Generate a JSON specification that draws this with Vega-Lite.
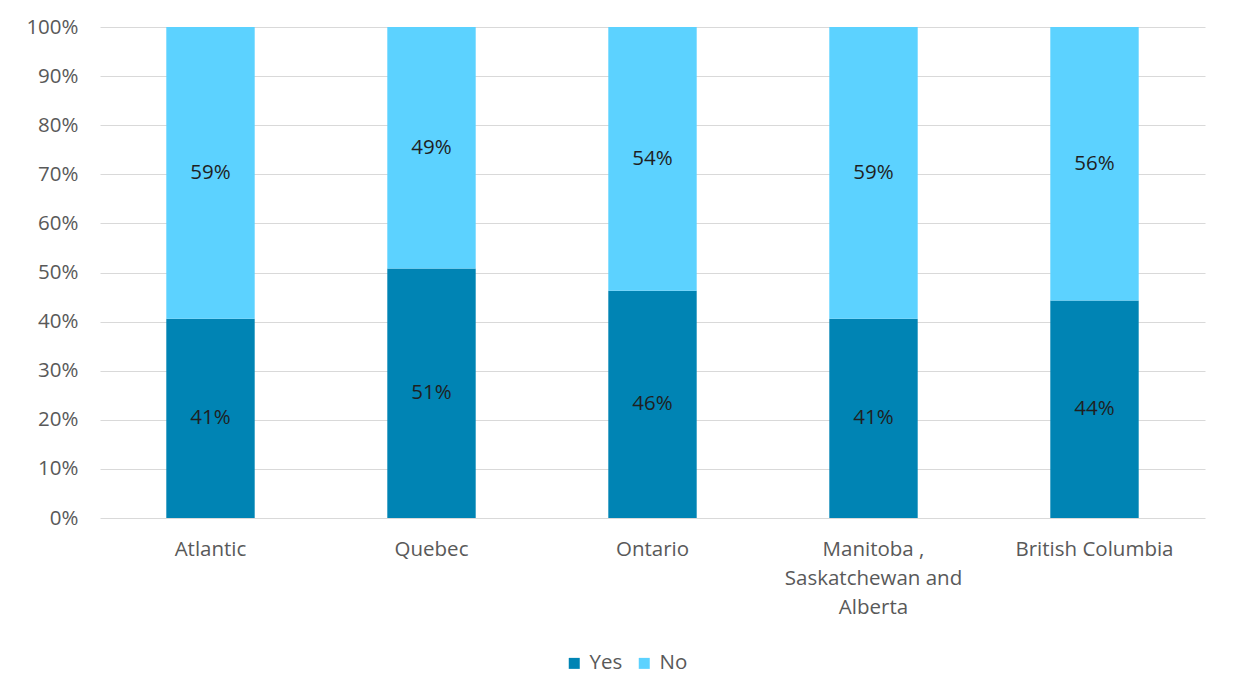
{
  "$schema": "https://vega.github.io/schema/vega-lite/v6.json",
  "autosize": {"type": "none"},
  "padding": {"left": 100, "top": 27, "right": 28, "bottom": 182},
  "width": 1105,
  "height": 491,
  "background": "white",
  "config": {
    "view": {"stroke": null},
    "font": "Open Sans"
  },
  "data": {
    "values": [
      {"region": "Atlantic", "answer": "Yes", "value": 0.406},
      {"region": "Atlantic", "answer": "No", "value": 0.594},
      {"region": "Quebec", "answer": "Yes", "value": 0.508},
      {"region": "Quebec", "answer": "No", "value": 0.492},
      {"region": "Ontario", "answer": "Yes", "value": 0.463},
      {"region": "Ontario", "answer": "No", "value": 0.537},
      {"region": "Manitoba , Saskatchewan and Alberta", "answer": "Yes", "value": 0.406},
      {"region": "Manitoba , Saskatchewan and Alberta", "answer": "No", "value": 0.594},
      {"region": "British Columbia", "answer": "Yes", "value": 0.443},
      {"region": "British Columbia", "answer": "No", "value": 0.557}
    ]
  },
  "encoding": {
    "x": {
      "field": "region",
      "type": "nominal",
      "sort": null,
      "scale": {"paddingInner": 0.6, "paddingOuter": 0.3},
      "axis": {
        "title": null,
        "labelAngle": 0,
        "domain": false,
        "ticks": false,
        "labelFont": "Open Sans",
        "labelFontSize": 20.5,
        "labelColor": "#595959",
        "labelPadding": 21,
        "labelLineHeight": 29,
        "labelLimit": 300,
        "labelExpr": "datum.value == 'Manitoba , Saskatchewan and Alberta' ? ['Manitoba ,', 'Saskatchewan and', 'Alberta'] : datum.value"
      }
    }
  },
  "layer": [
    {
      "mark": {"type": "bar"},
      "encoding": {
        "y": {
          "field": "value",
          "type": "quantitative",
          "stack": "zero",
          "scale": {"domain": [0, 1]},
          "axis": {
            "title": null,
            "format": ".0%",
            "values": [0, 0.1, 0.2, 0.3, 0.4, 0.5, 0.6, 0.7, 0.8, 0.9, 1],
            "labelOverlap": false,
            "domain": false,
            "ticks": false,
            "grid": true,
            "gridColor": "#d9d9d9",
            "gridWidth": 1,
            "labelFont": "Open Sans",
            "labelFontSize": 20.5,
            "labelColor": "#595959",
            "labelPadding": 22
          }
        },
        "color": {
          "field": "answer",
          "type": "nominal",
          "sort": ["Yes", "No"],
          "scale": {"domain": ["Yes", "No"], "range": ["#0084B4", "#5CD2FF"]},
          "legend": {
            "title": null,
            "orient": "none",
            "direction": "horizontal",
            "legendX": 464,
            "legendY": 626,
            "symbolType": "square",
            "symbolSize": 121,
            "symbolStrokeWidth": 0,
            "labelFont": "Open Sans",
            "labelFontSize": 20.5,
            "labelColor": "#595959",
            "labelOffset": 5,
            "columnPadding": 11
          }
        }
      }
    },
    {
      "transform": [
        {"stack": "value", "groupby": ["region"], "sort": [{"field": "answer", "order": "descending"}], "as": ["y0", "y1"]},
        {"fold": ["y0", "y1"], "as": ["edge", "pos"]}
      ],
      "mark": {"type": "text", "font": "Open Sans", "fontSize": 20.5, "color": "#1f1f1f", "baseline": "middle", "align": "center"},
      "encoding": {
        "y": {
          "aggregate": "mean",
          "field": "pos",
          "type": "quantitative",
          "axis": {
            "title": null,
            "format": ".0%",
            "values": [0, 0.1, 0.2, 0.3, 0.4, 0.5, 0.6, 0.7, 0.8, 0.9, 1],
            "labelOverlap": false,
            "domain": false,
            "ticks": false,
            "grid": true,
            "gridColor": "#d9d9d9",
            "gridWidth": 1,
            "labelFont": "Open Sans",
            "labelFontSize": 20.5,
            "labelColor": "#595959",
            "labelPadding": 22
          }
        },
        "detail": {"field": "answer", "type": "nominal"},
        "text": {"aggregate": "min", "field": "value", "type": "quantitative", "format": ".0%"}
      }
    }
  ]
}
